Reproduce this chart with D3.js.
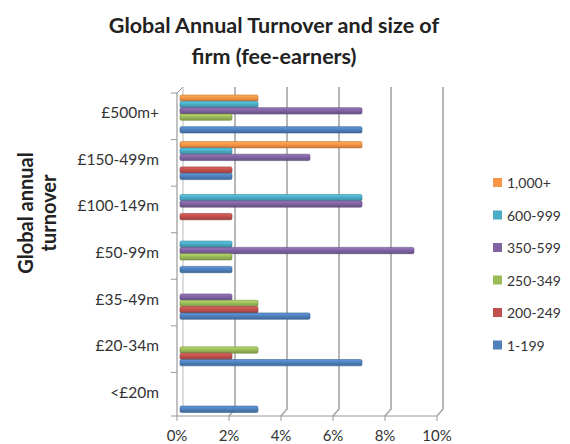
<!DOCTYPE html>
<html>
<head>
<meta charset="utf-8">
<script src="https://cdn.jsdelivr.net/npm/d3@7"></script>
<style>
  body { margin: 0; background: #fff; }
  text { font-family: Lato, "Open Sans", sans-serif; }
</style>
</head>
<body>
<div id="chart"></div>
<script>
// categories, top to bottom
var categories = ["£500m+", "£150-499m", "£100-149m", "£50-99m", "£35-49m", "£20-34m", "<£20m"];
// series, in the order they sit within each group (top to bottom) and in the legend
var seriesNames = ["1,000+", "600-999", "350-599", "250-349", "200-249", "1-199"];
var seriesColors = ["#F79646", "#4BACC6", "#8064A2", "#9BBB59", "#C0504D", "#4F81BD"];

// values in %, one per category
var v1000 = [3, 7, 0, 0, 0, 0, 0];
var v600  = [3, 2, 7, 2, 0, 0, 0];
var v350  = [7, 5, 7, 9, 2, 0, 0];
var v250  = [2, 0, 0, 2, 3, 3, 0];
var v200  = [0, 2, 2, 0, 3, 2, 0];
var v1    = [7, 2, 0, 2, 5, 7, 3];
var xTicks = [0, 2, 4, 6, 8, 10];

var seriesValues = [v1000, v600, v350, v250, v200, v1];

var svgWidth = 570, svgHeight = 444;
var depth = { dx: 6, dy: -7 };   // 3d wall offset

var svg = d3.select("#chart").append("svg")
  .attr("width", svgWidth)
  .attr("height", svgHeight);

// gradients for the bars
var defs = svg.append("defs");
seriesColors.forEach(function(c, i) {
  var g = defs.append("linearGradient")
    .attr("id", "grad" + i)
    .attr("x1", 0).attr("y1", 0).attr("x2", 0).attr("y2", 1);
  g.append("stop").attr("offset", "0%").attr("stop-color", d3.color(c).brighter(0.5));
  g.append("stop").attr("offset", "45%").attr("stop-color", c);
  g.append("stop").attr("offset", "100%").attr("stop-color", d3.color(c).darker(0.6));
});

// scales
var x = d3.scaleLinear().domain([0, 10]).range([177, 437]);
var y = d3.scaleBand().domain(categories).range([90, 416]);
var yInner = d3.scaleBand().domain(seriesNames).range([5, 43]);

// title
var title = svg.append("text")
  .attr("text-anchor", "middle")
  .attr("font-size", "21.5px")
  .attr("font-weight", "bold")
  .attr("fill", "#222");
title.append("tspan").attr("x", 274).attr("y", 33).text("Global Annual Turnover and size of");
title.append("tspan").attr("x", 274).attr("y", 64).text("firm (fee-earners)");

// gridlines (back wall, with floor edge)
xTicks.forEach(function(t) {
  if (t === 0) return;
  var gx = x(t);
  svg.append("path")
    .attr("d", `M${gx + depth.dx},87 L${gx + depth.dx},${416 + depth.dy} L${gx},416`)
    .attr("fill", "none")
    .attr("stroke", "#a6a6a6")
    .attr("stroke-width", 1.6);
});

// left walls
svg.append("path")
  .attr("d", `M${x(0) + depth.dx},87 L${x(0) + depth.dx},${416 + depth.dy}`)
  .attr("stroke", "#bbb").attr("stroke-width", 1).attr("fill", "none");
svg.append("path")
  .attr("d", `M${x(0)},93 L${x(0)},416 L${x(10)},416`)
  .attr("stroke", "#999").attr("stroke-width", 1.2).attr("fill", "none");
svg.append("line")
  .attr("x1", x(0)).attr("y1", 93).attr("x2", x(0) + depth.dx).attr("y2", 87)
  .attr("stroke", "#999");

// category ticks
categories.concat([null]).forEach(function(c, i) {
  var ty = c ? y(c) + 3 : 416;
  svg.append("line")
    .attr("x1", x(0) - 6).attr("x2", x(0))
    .attr("y1", ty).attr("y2", ty)
    .attr("stroke", "#999");
});

// x ticks and labels
xTicks.forEach(function(t) {
  svg.append("line")
    .attr("x1", x(t)).attr("x2", x(t))
    .attr("y1", 416).attr("y2", 421)
    .attr("stroke", "#999");
  svg.append("text")
    .attr("x", x(t))
    .attr("y", 441)
    .attr("text-anchor", "middle")
    .attr("font-size", "15px")
    .attr("fill", "#333")
    .text(t + "%");
});

// category labels
svg.selectAll(".catLabel")
  .data(categories)
  .enter().append("text")
  .attr("class", "catLabel")
  .attr("x", 159)
  .attr("y", d => y(d) + y.bandwidth() / 2 + 5)
  .attr("text-anchor", "end")
  .attr("font-size", "15.5px")
  .attr("fill", "#333")
  .text(d => d);

// bars
var barX = d3.scaleLinear().domain([0, 10]).range([180, 440]);
seriesNames.forEach(function(s, si) {
  var rows = categories.map(function(c, ci) { return { cat: c, value: seriesValues[si][ci] }; })
    .filter(d => d.value > 0);
  svg.selectAll(".bar" + si)
    .data(rows)
    .enter().append("rect")
    .attr("class", "bar" + si)
    .attr("x", barX(0))
    .attr("y", d => y(d.cat) + yInner(s))
    .attr("width", d => barX(d.value) - barX(0))
    .attr("height", yInner.bandwidth())
    .attr("rx", 1.5)
    .attr("fill", "url(#grad" + si + ")")
    .attr("stroke", d3.color(seriesColors[si]).darker(0.8))
    .attr("stroke-width", 0.6);
});

// y axis title
var yTitle = svg.append("text")
  .attr("transform", "translate(33, 213) rotate(-90)")
  .attr("text-anchor", "middle")
  .attr("font-size", "20px")
  .attr("font-weight", "bold")
  .attr("fill", "#222");
yTitle.append("tspan").attr("x", 0).attr("y", 0).text("Global annual");
yTitle.append("tspan").attr("x", 0).attr("y", 23).text("turnover");

// legend
var legend = svg.selectAll(".legend")
  .data(seriesNames)
  .enter().append("g")
  .attr("class", "legend")
  .attr("transform", (d, i) => `translate(493, ${183 + i * 32.5})`);

legend.append("rect")
  .attr("x", 0).attr("y", -5)
  .attr("width", 9).attr("height", 9)
  .attr("fill", (d, i) => seriesColors[i]);

legend.append("text")
  .attr("x", 14)
  .attr("y", 5)
  .attr("font-size", "14px")
  .attr("fill", "#333")
  .text(d => d);
</script>
</body>
</html>
